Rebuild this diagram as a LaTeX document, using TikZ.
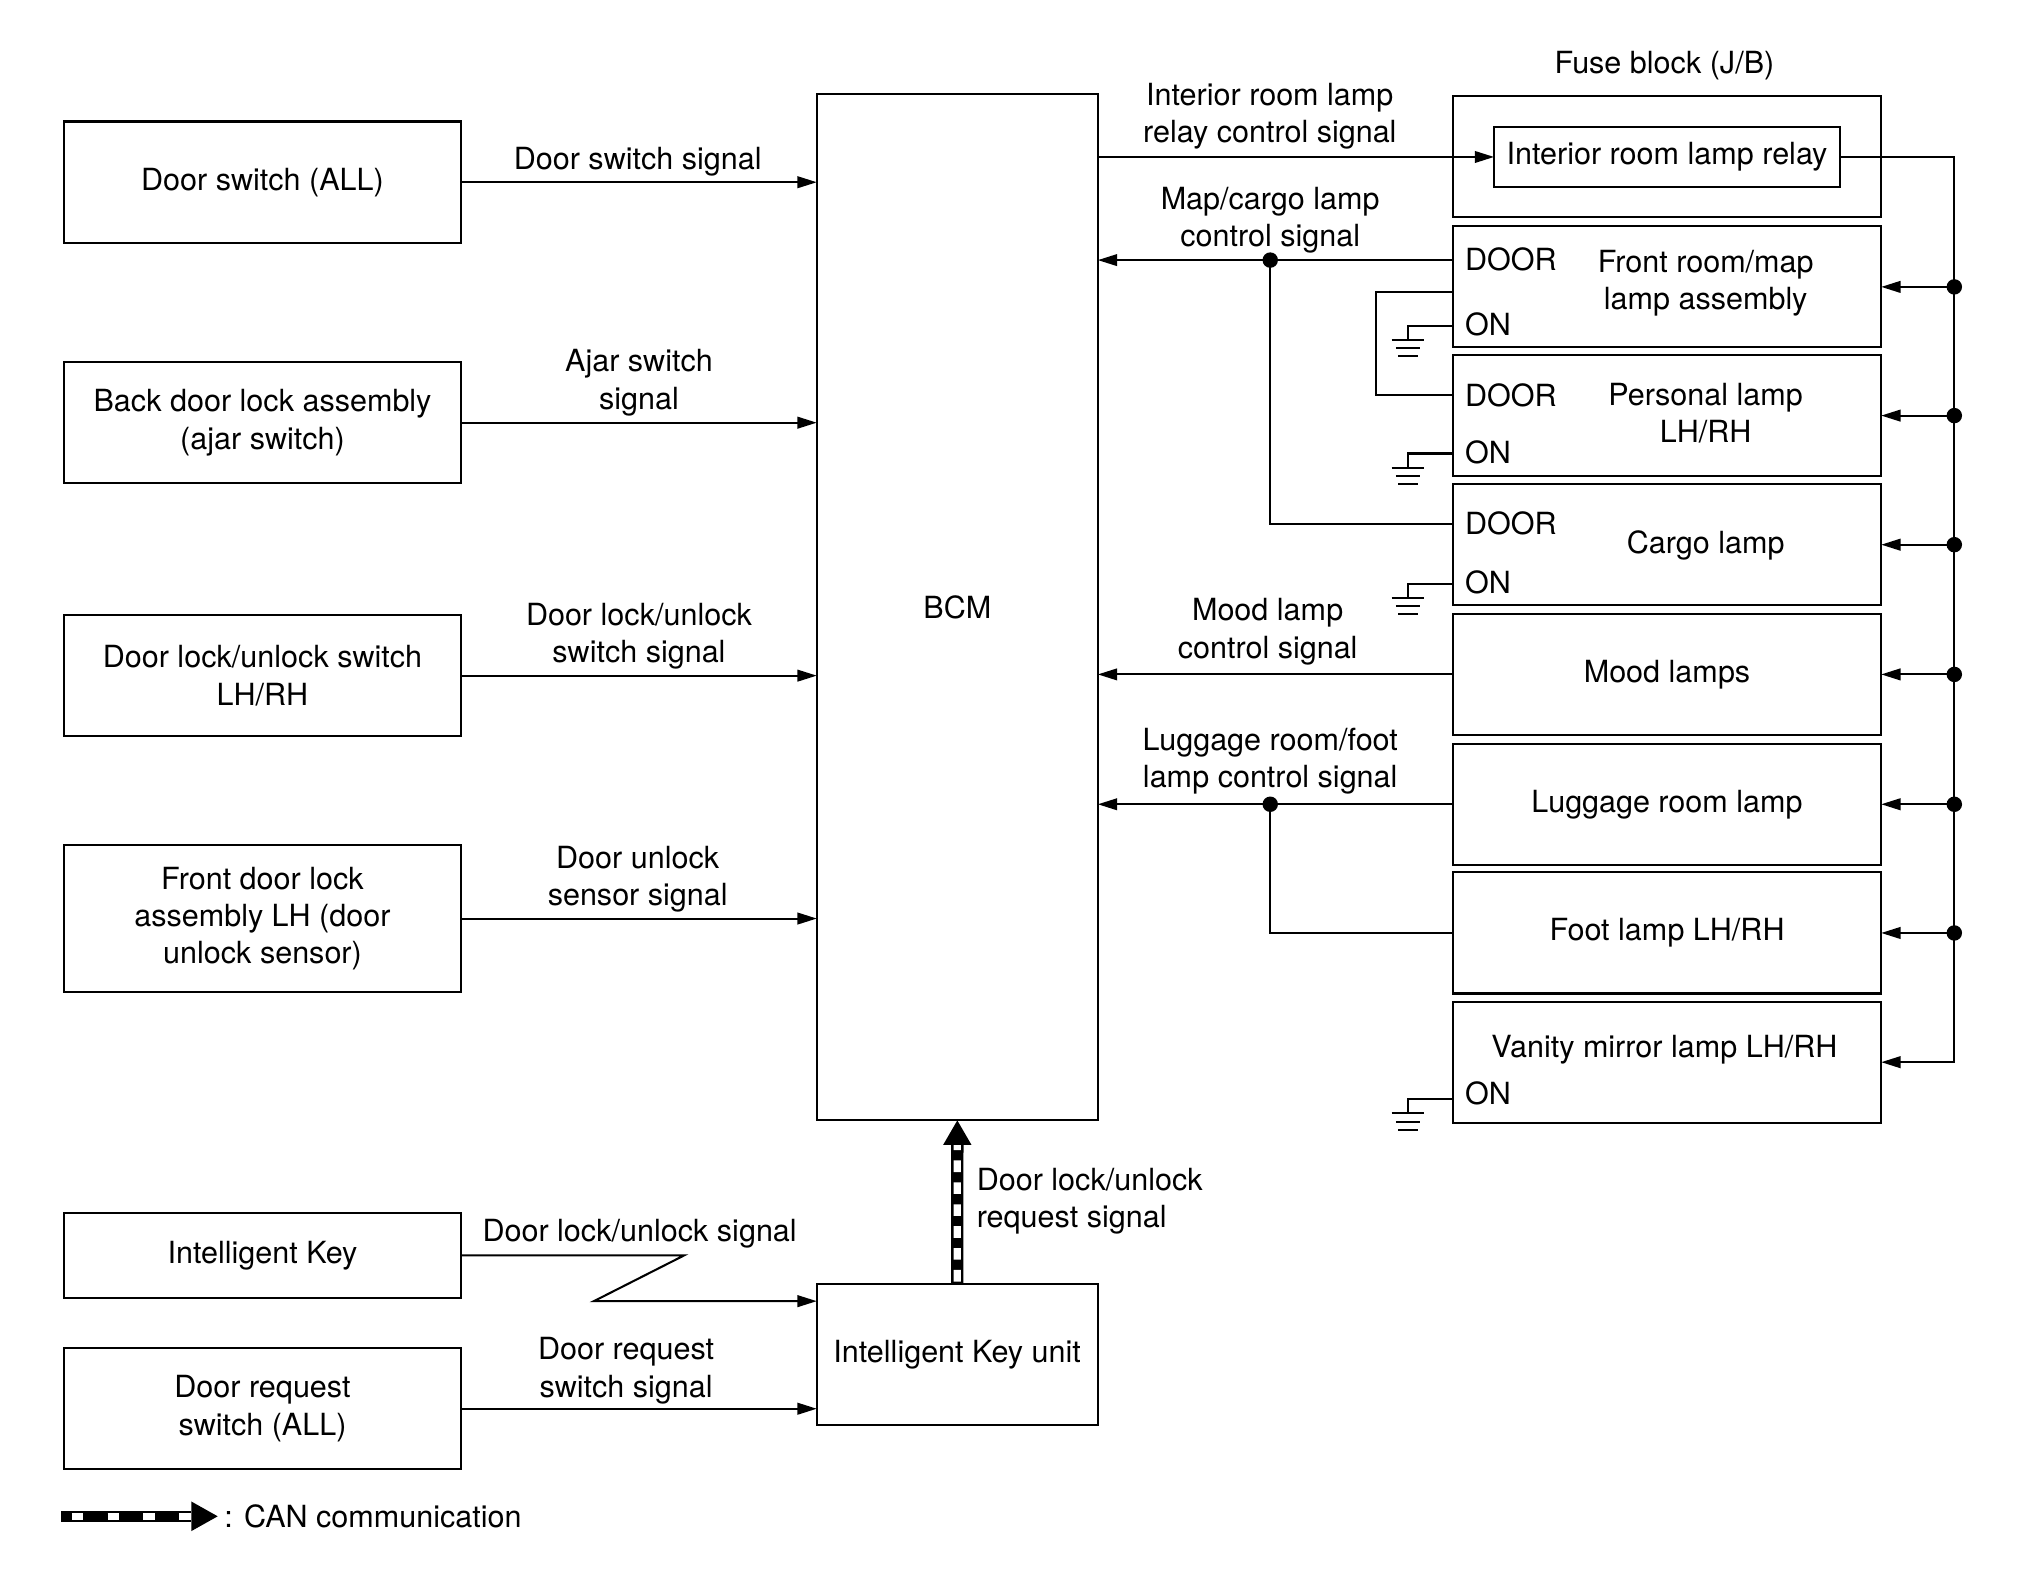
\documentclass[tikz,border=0pt]{standalone}
\usepackage{fontspec}
\setmainfont{TeX Gyre Heros}
\usetikzlibrary{arrows.meta}
\newcommand\gndsym[2]{%
  \coordinate (#2) at (#1 -| gx);
  \draw[wire] (#1) -- (#2) -- ++(0,-11);
  \draw[wire] ([shift={(-12.7,-11)}]#2) -- ++(25.4,0);
  \draw[wire] ([shift={(-9.5,-17.4)}]#2) -- ++(19,0);
  \draw[wire] ([shift={(-7.7,-23.6)}]#2) -- ++(15.4,0);
}
\begin{document}
\begin{tikzpicture}[x=1pt,y=1pt,
  every node/.style={font=\fontsize{23.7}{29}\selectfont},
  box/.style={draw, line width=1.6pt, inner sep=0pt, outer sep=0pt, align=center},
  lbox/.style={box, minimum width=307.5},
  rbox/.style={box, minimum width=332.5, minimum height=94},
  wire/.style={line width=1.6pt},
  arr/.style={wire, -{Triangle[length=15pt,width=9pt]}},
  txt/.style={align=center, inner sep=0pt},
  canblack/.style={line width=9.6pt},
  canwhite/.style={white, line width=5.6pt, dash pattern=on 9pt off 8pt},
]
\useasboundingbox (0,0) rectangle (1568,-1219.5);

% left column
\node[lbox, minimum height=94.3] (ds) at (203.75,-141.45) {Door switch (ALL)};
\node[lbox, minimum height=94.2] (bd) at (203.75,-328.1) {Back door lock assembly\\(ajar switch)};
\node[lbox, minimum height=94.3] (dl) at (203.75,-524.45) {Door lock/unlock switch\\LH/RH};
\node[lbox, minimum height=114.6] (fd) at (203.75,-713) {Front door lock\\assembly LH (door\\unlock sensor)};
\node[lbox, minimum height=66.5] (ik) at (203.75,-974.5) {Intelligent Key};
\node[lbox, minimum height=94] (dr) at (203.75,-1093.5) {Door request\\switch (ALL)};

% centre
\node[box, minimum width=218.2, minimum height=796.9] (bcm) at (743.1,-471.25) {BCM};
\node[box, minimum width=218, minimum height=109.6] (iku) at (743,-1051.6) {Intelligent Key unit};

% right column
\node[txt] (fuselbl) at (1292,-51) {Fuse block (J/B)};
\node[box, minimum width=332.5, minimum height=94.3] (fuse) at (1294,-121.45) {};
\node[box, minimum width=268.5, minimum height=46.5] (relay) at (1294,-121.85) {Interior room lamp relay};

\node[rbox] (fr) at (1294,-222.7) {};
\node[rbox] (pl) at (1294,-322.6) {};
\node[rbox] (cl) at (1294,-422.8) {};
\node[rbox] (ml) at (1294,-523.5) {Mood lamps};
\node[rbox] (lr) at (1294,-624.3) {Luggage room lamp};
\node[rbox] (fl) at (1294,-724.2) {Foot lamp LH/RH};
\node[rbox] (vm) at (1294,-824.5) {};

\node[txt] (frt) at (1324,-220) {Front room/map\\lamp assembly};
\node[txt] (plt) at (1324,-320.5) {Personal lamp\\LH/RH};
\node[txt] (clt) at (1324,-423.5) {Cargo lamp};
\node[txt] (vmt) at (1292,-815) {Vanity mirror lamp LH/RH};

\node[txt, anchor=west] (frdoor) at (1137,-201.5) {DOOR};
\node[txt, anchor=west] (fron) at (1137,-252) {ON};
\node[txt, anchor=west] (pldoor) at (1137,-307) {DOOR};
\node[txt, anchor=west] (plon) at (1137,-351) {ON};
\node[txt, anchor=west] (cldoor) at (1137,-406) {DOOR};
\node[txt, anchor=west] (clon) at (1137,-452) {ON};
\node[txt, anchor=west] (vmon) at (1137,-849) {ON};

% signal labels
\node[txt] (s1) at (495,-125.6) {Door switch signal};
\node[txt] (s2) at (496,-297) {Ajar switch\\signal};
\node[txt] (s3) at (496,-494) {Door lock/unlock\\switch signal};
\node[txt] (s4) at (495,-682.4) {Door unlock\\sensor signal};
\node[txt] (s5) at (496.5,-957.8) {Door lock/unlock signal};
\node[txt] (s6) at (486,-1064) {Door request\\switch signal};
\node[txt, align=left, anchor=west] (s7) at (758,-932.5) {Door lock/unlock\\request signal};
\node[txt] (r1) at (985.7,-90) {Interior room lamp\\relay control signal};
\node[txt] (r2) at (986,-170.7) {Map/cargo lamp\\control signal};
\node[txt] (r3) at (984,-490.4) {Mood lamp\\control signal};
\node[txt] (r4) at (986,-591) {Luggage room/foot\\lamp control signal};

% left connectors
\foreach \n in {ds,bd,dl,fd}{\draw[arr] (\n.east) -- (\n.east -| bcm.west);}
\coordinate (zA) at (531,-974.5);
\coordinate (zB) at (461,-1010);
\draw[arr] (ik.east) -- (zA) -- (zB) -- (zB -| iku.west);
\draw[arr] (dr.east) -- (dr.east -| iku.west);

% CAN arrow
\coordinate (canbase) at ([yshift=-19pt]bcm.south);
\draw[canblack] (iku.north) -- (canbase);
\draw[canwhite] ([yshift=2pt]iku.north) -- (canbase);
\fill (bcm.south) -- ([xshift=-11pt]canbase) -- ([xshift=11pt]canbase) -- cycle;

% legend
\coordinate (lgA) at (47.5,-1177);
\coordinate (lgB) at (148.5,-1177);
\coordinate (lgC) at (169,-1177);
\draw[line width=8.6pt] (lgA) -- (lgB);
\draw[white, line width=5.4pt, dash pattern=on 9pt off 18.7pt, dash phase=19.4pt] (lgA) -- (lgB);
\fill (lgC) -- ([yshift=11.5pt]lgB) -- ([yshift=-11.5pt]lgB) -- cycle;
\node[txt, anchor=west] (lgt) at (174,-1177) {: CAN communication};

% right connectors
\draw[arr] (relay.west -| bcm.east) -- (relay.west);
\coordinate (busx) at (1517,0);
\draw[arr] (relay.east) -- (relay.east -| busx) |- (vm.east);
\foreach \n in {fr,pl,cl,ml,lr,fl}{
  \fill (\n.east -| busx) circle (6pt);
  \draw[arr] (\n.east -| busx) -- (\n.east);
}

\coordinate (mcx) at (986,0);
\coordinate (frD) at ([yshift=-26.2pt]fr.north west);
\coordinate (clD) at ([yshift=-30.9pt]cl.north west);
\coordinate (mcdot) at (frD -| mcx);
\draw[arr] (frD) -- (frD -| bcm.east);
\draw[wire] (mcdot) |- (clD);
\fill (mcdot) circle (6pt);

\coordinate (lkx) at (1068,0);
\coordinate (frM) at ([yshift=-50.8pt]fr.north west);
\coordinate (plD) at ([yshift=-31pt]pl.north west);
\draw[wire] (frM) -- (frM -| lkx) |- (plD);

\draw[arr] (ml.west) -- (ml.west -| bcm.east);

\coordinate (lfdot) at (lr.west -| mcx);
\draw[arr] (lr.west) -- (lr.west -| bcm.east);
\draw[wire] (lfdot) |- (fl.west);
\fill (lfdot) circle (6pt);

% grounds
\coordinate (gx) at (1093,0);
\coordinate (frON) at ([yshift=-77.3pt]fr.north west);
\coordinate (plON) at ([yshift=-76.4pt]pl.north west);
\coordinate (clON) at ([yshift=-77.2pt]cl.north west);
\coordinate (vmON) at ([yshift=-75.8pt]vm.north west);
\gndsym{frON}{gfr}
\gndsym{plON}{gpl}
\gndsym{clON}{gcl}
\gndsym{vmON}{gvm}
\end{tikzpicture}
\end{document}
